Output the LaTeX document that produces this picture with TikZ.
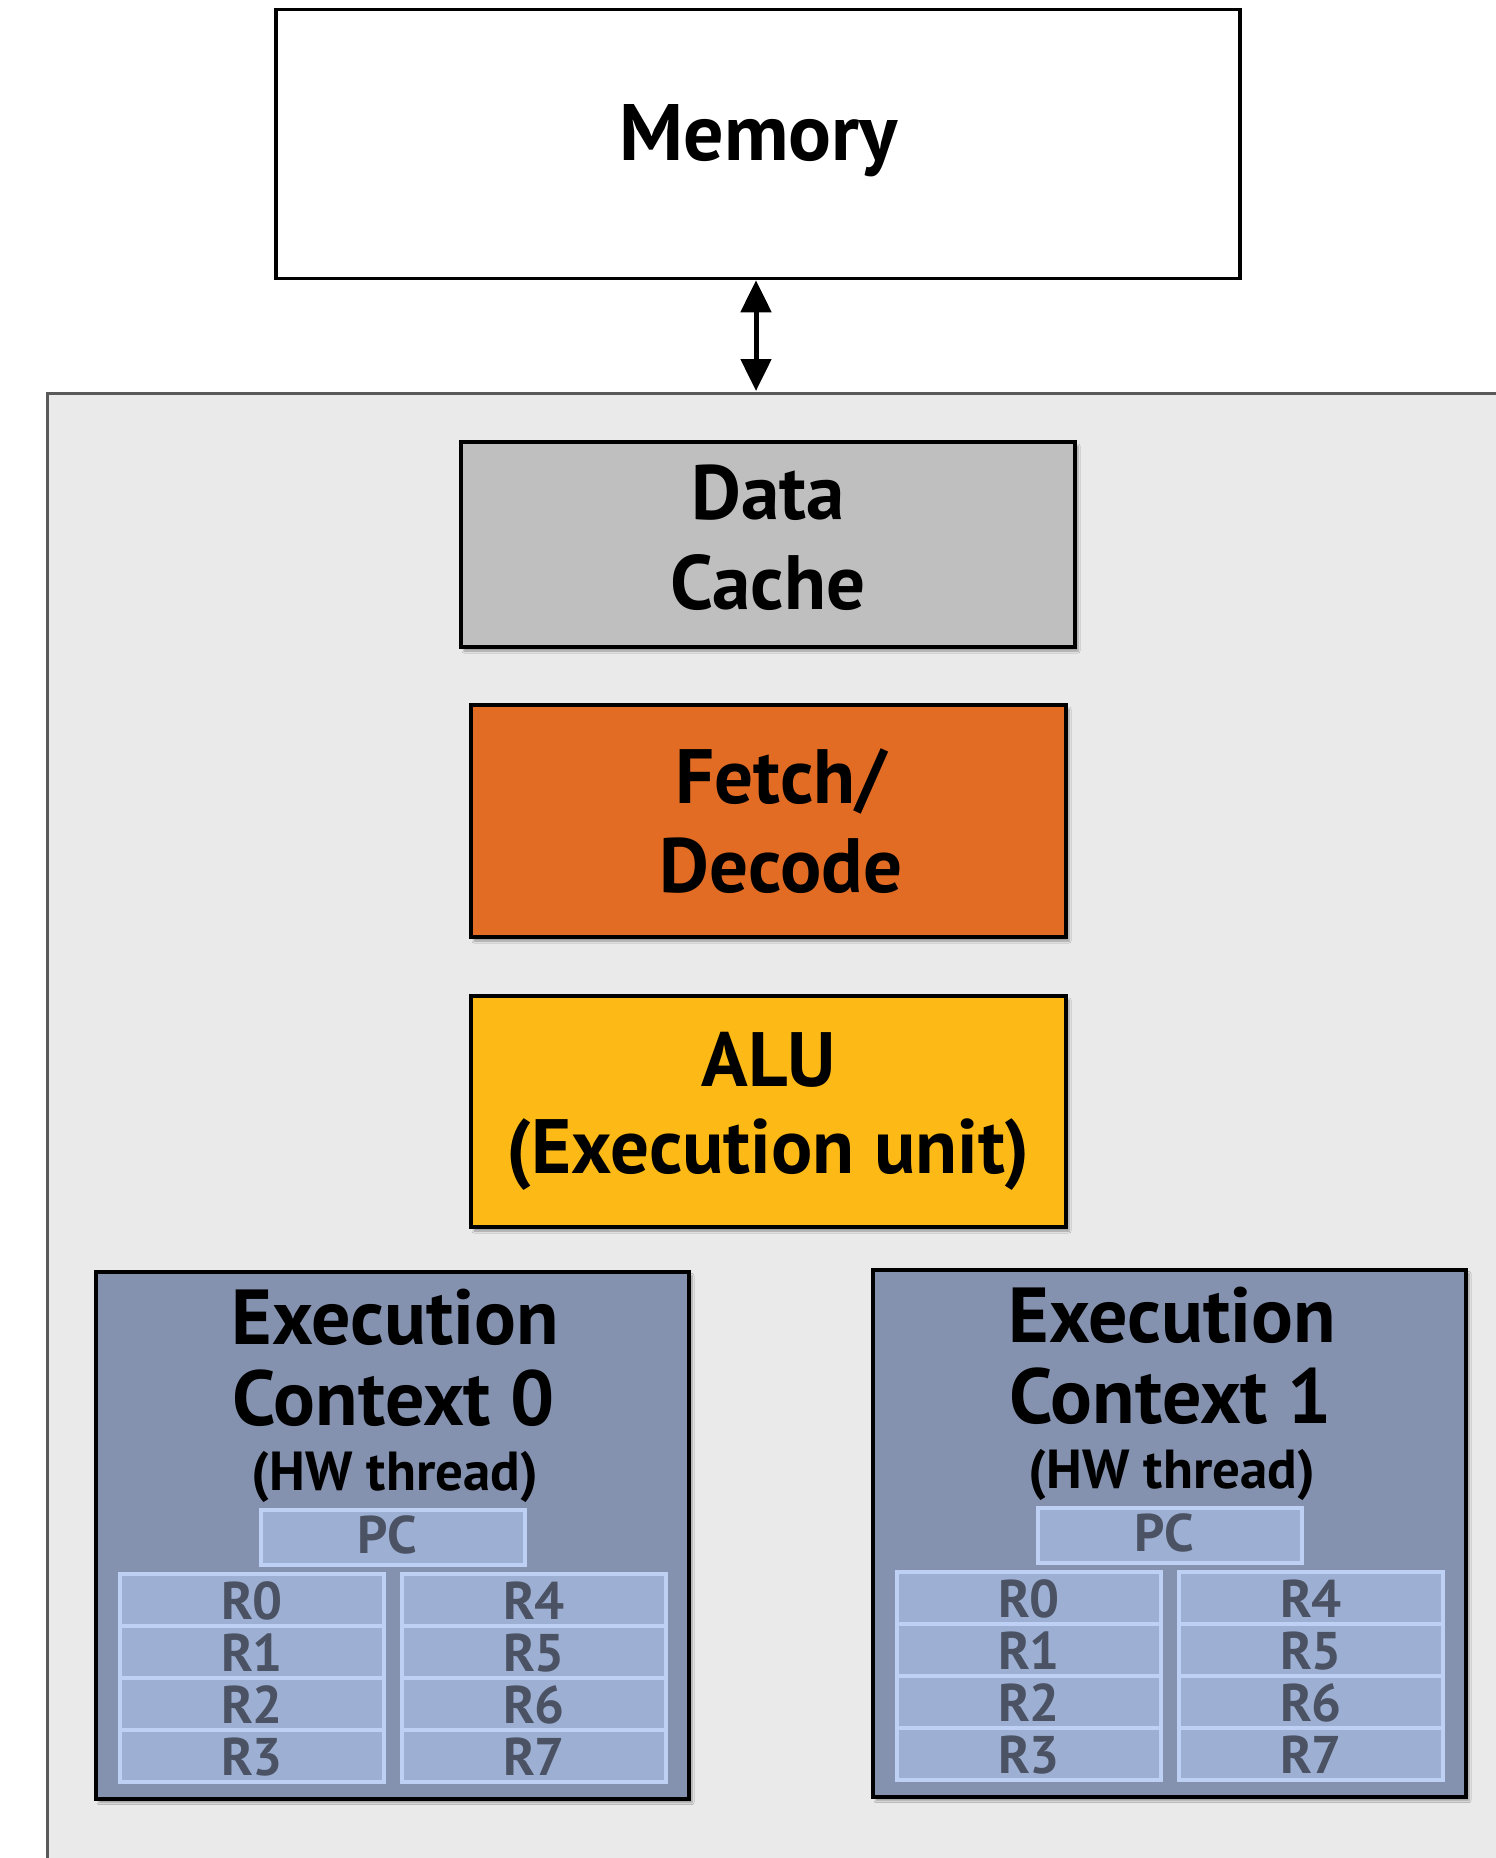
\documentclass[tikz,border=0pt]{standalone}
\usepackage{fontspec}
\setmainfont{PT Sans}
\usetikzlibrary{arrows.meta,shadows.blur}
\definecolor{panelfill}{HTML}{EAEAEA}
\definecolor{panelline}{HTML}{5A5A5A}
\definecolor{cachefill}{HTML}{BFBFBF}
\definecolor{fetchfill}{HTML}{E36C24}
\definecolor{alufill}{HTML}{FDB916}
\definecolor{ctxfill}{HTML}{8491AF}
\definecolor{regfill}{HTML}{9DAFD2}
\definecolor{regline}{HTML}{BFD0F5}
\definecolor{regtext}{HTML}{4B5263}
\tikzset{
  unitbox/.style={draw=black, line width=4pt, inner sep=0pt,
    blur shadow={shadow xshift=3pt, shadow yshift=-4pt, shadow blur steps=6, shadow opacity=35}},
  bigtxt/.style={font=\fontsize{77}{92}\selectfont\bfseries, anchor=base, inner sep=0pt},
  ctxtxt/.style={font=\fontsize{78}{92}\selectfont\bfseries, anchor=base, inner sep=0pt},
  hwtxt/.style={font=\fontsize{55}{66}\selectfont\bfseries, anchor=base, inner sep=0pt},
  regbox/.style={draw=regline, fill=regfill, line width=4pt, minimum width=264pt, minimum height=52pt, inner sep=0pt},
  regtxt/.style={font=\fontsize{53}{64}\selectfont\bfseries, text=regtext, anchor=base, inner sep=0pt},
}
\begin{document}
\begin{tikzpicture}[x=1pt,y=-1pt]
\useasboundingbox (0,0) rectangle (1496,1858);
% outer panel
\begin{scope}
\clip (0,0) rectangle (1496,1858);
\draw[panelline, fill=panelfill, line width=3pt] (47,393) rectangle (1520,1890);
\end{scope}
\coordinate (paneltop) at (756,391);
% memory
\node[draw=black, line width=3.5pt, fill=white, minimum width=964pt, minimum height=269pt, inner sep=0pt] (mem) at (758,144) {};
\node[font=\fontsize{80}{96}\selectfont\bfseries, anchor=base, inner sep=0pt] (memt) at (759,160) {Memory};
\draw[line width=5pt, {Triangle[length=32pt,width=30pt]}-{Triangle[length=32pt,width=30pt]}] (mem.south -| paneltop) -- (paneltop);
% data cache
\node[unitbox, fill=cachefill, minimum width=614pt, minimum height=205pt] (dc) at (768,544.5) {};
\node[bigtxt] (dct1) at (768,519) {Data};
\node[bigtxt] (dct2) at (768,609) {Cache};
% fetch/decode
\node[unitbox, fill=fetchfill, minimum width=595pt, minimum height=232pt] (fd) at (768.5,821) {};
\node[bigtxt] (fdt1) at (781,803) {Fetch/};
\node[bigtxt] (fdt2) at (781,892) {Decode};
% ALU
\node[unitbox, fill=alufill, minimum width=595pt, minimum height=231pt] (alu) at (768.5,1111.5) {};
\node[bigtxt] (alut1) at (769,1086) {ALU};
\node[bigtxt] (alut2) at (768,1173) {(Execution unit)};
% contexts
\foreach \i/\dx/\dy in {0/0/0, 1/777/-2} {
  \begin{scope}[shift={(\dx,\dy)}]
  \node[unitbox, fill=ctxfill, minimum width=593pt, minimum height=527pt] (ctx\i) at (392.5,1535) {};
  \node[ctxtxt] (ctx\i t1) at (395,1344) {Execution};
  \node[ctxtxt] (ctx\i t2) at (394,1425) {Context \i};
  \node[hwtxt] (ctx\i t3) at (395,1490) {(HW thread)};
  \node[regbox, minimum height=55pt] (pc\i) at (393,1537.5) {};
  \node[regtxt] (pc\i t) at (387,1553) {PC};
  \foreach \r in {0,1,2,3} {
    \pgfmathtruncatemacro{\rr}{\r+4}
    \node[regbox] (ra\i\r) at (252,{1600+52*\r}) {};
    \node[regtxt] (rat\i\r) at (252,{1619+52*\r}) {R\r};
    \node[regbox] (rb\i\r) at (534,{1600+52*\r}) {};
    \node[regtxt] (rbt\i\r) at (534,{1619+52*\r}) {R\rr};
  }
  \end{scope}
}
\end{tikzpicture}
\end{document}
